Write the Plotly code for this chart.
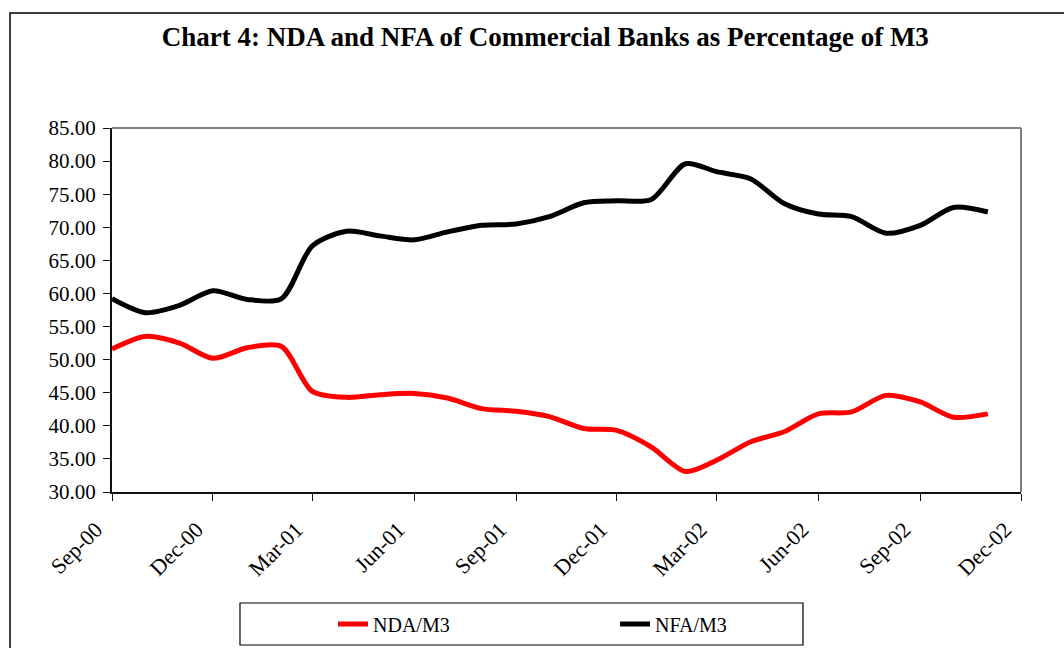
import plotly.graph_objects as go

months = ["2000-09-01", "2000-10-01", "2000-11-01", "2000-12-01", "2001-01-01", "2001-02-01",
          "2001-03-01", "2001-04-01", "2001-05-01", "2001-06-01", "2001-07-01", "2001-08-01",
          "2001-09-01", "2001-10-01", "2001-11-01", "2001-12-01", "2002-01-01", "2002-02-01",
          "2002-03-01", "2002-04-01", "2002-05-01", "2002-06-01", "2002-07-01", "2002-08-01",
          "2002-09-01", "2002-10-01", "2002-11-01"]

nda_m3 = [51.6, 53.5, 52.5, 50.2, 51.8, 52.0, 45.2, 44.3, 44.7, 44.9, 44.2, 42.6, 42.2, 41.4,
          39.6, 39.3, 36.8, 33.1, 34.8, 37.6, 39.1, 41.8, 42.1, 44.6, 43.6, 41.3, 41.8]

nfa_m3 = [59.2, 57.1, 58.2, 60.4, 59.1, 59.2, 67.2, 69.4, 68.7, 68.1, 69.3, 70.3, 70.5, 71.6,
          73.7, 74.0, 74.2, 79.6, 78.4, 77.3, 73.6, 72.0, 71.6, 69.1, 70.3, 73.0, 72.3]

tick_dates = ["2000-09-01", "2000-12-01", "2001-03-01", "2001-06-01", "2001-09-01",
              "2001-12-01", "2002-03-01", "2002-06-01", "2002-09-01", "2002-12-01"]
tick_labels = ["Sep-00", "Dec-00", "Mar-01", "Jun-01", "Sep-01",
               "Dec-01", "Mar-02", "Jun-02", "Sep-02", "Dec-02"]

title_text = "Chart 4: NDA and NFA of Commercial Banks as Percentage of M3"
serif = "Liberation Serif, Times New Roman, serif"

fig = go.Figure()
fig.add_trace(go.Scatter(x=months, y=nda_m3, mode="lines", name="NDA/M3",
                         line=dict(color="#ff0000", width=5, shape="spline", smoothing=0.8)))
fig.add_trace(go.Scatter(x=months, y=nfa_m3, mode="lines", name="NFA/M3",
                         line=dict(color="#000000", width=5, shape="spline", smoothing=0.8)))

fig.update_layout(
    width=1064, height=648,
    margin=dict(l=112, r=43, t=128, b=156, autoexpand=False),
    paper_bgcolor="white", plot_bgcolor="white",
    font=dict(family=serif, size=21, color="black"),
    title=dict(text="<b>" + title_text + "</b>", x=0.5125, xanchor="center",
               y=1 - 37 / 648, yanchor="middle", font=dict(family=serif, size=27, color="black")),
    showlegend=True,
    legend=dict(orientation="h", xref="container", yref="container",
                x=333 / 1064, xanchor="left", y=1 - 624 / 648, yanchor="middle",
                bgcolor="rgba(0,0,0,0)", borderwidth=0, entrywidth=237, entrywidthmode="pixels",
                font=dict(family=serif, size=20, color="black")),
    xaxis=dict(
        type="date", range=["2000-09-01", "2002-12-01"],
        tickmode="array", tickvals=tick_dates, ticktext=tick_labels,
        tickangle=-45, showgrid=False, zeroline=False,
        showline=True, linecolor="#111111", linewidth=2, ticks="outside", ticklen=7,
        tickcolor="#111111", ticklabelstandoff=7, ticklabelshift=-16,
        tickfont=dict(family=serif, size=22, color="black"),
    ),
    yaxis=dict(
        range=[30, 85], dtick=5, tick0=30, tickformat=".2f", showgrid=False, zeroline=False,
        showline=True, linecolor="#111111", linewidth=2, ticks="outside", ticklen=7,
        tickcolor="#111111", ticklabelstandoff=3,
        tickfont=dict(family=serif, size=21, color="black"),
    ),
)

# plot area top/right border (gray)
fig.add_shape(type="line", xref="paper", yref="paper", x0=0, x1=1, y0=1, y1=1,
              line=dict(color="#808080", width=2))
fig.add_shape(type="line", xref="paper", yref="paper", x0=1, x1=1, y0=0, y1=1,
              line=dict(color="#808080", width=2))
# outer chart border
fig.add_shape(type="rect", xref="paper", yref="paper",
              x0=(10 - 112) / 909, x1=(1090 - 112) / 909,
              y0=(492 - 670) / 364, y1=(492 - 13) / 364,
              line=dict(color="black", width=1.5), layer="below")
# legend box
fig.add_shape(type="rect", xref="paper", yref="paper",
              x0=(240 - 112) / 909, x1=(803 - 112) / 909,
              y0=(492 - 645) / 364, y1=(492 - 603) / 364,
              line=dict(color="black", width=1.2), layer="below")

fig.write_html("out.html", config={"displayModeBar": False},
               post_script="document.body.style.margin='0';document.body.style.overflow='hidden';")
